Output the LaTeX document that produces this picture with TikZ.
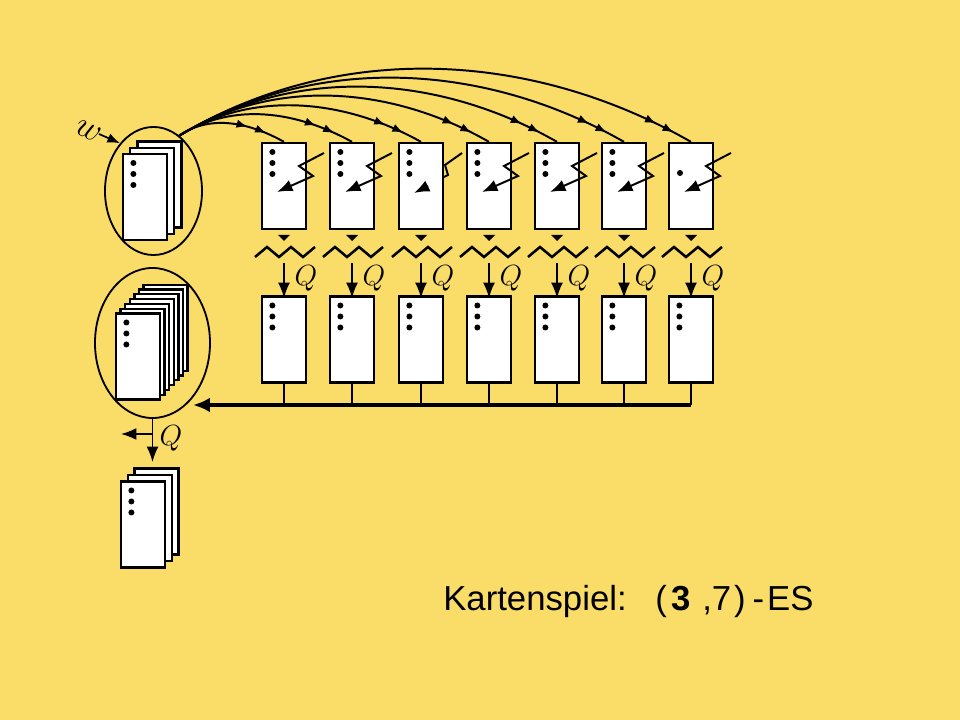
\documentclass[tikz,border=0pt]{standalone}
\usepackage{fontspec}
\newfontfamily\capfont{Liberation Sans}
\usetikzlibrary{arrows.meta,shapes.geometric,decorations.markings}

\begin{document}
\begin{tikzpicture}[x=0.025cm,y=-0.025cm]
\definecolor{slide}{RGB}{250,220,104}
\tikzset{
  card/.style={rectangle,draw=black,fill=white,line width=1.6pt,minimum width=1.1cm,minimum height=2.15cm,inner sep=0pt},
  threedots/.style={card,path picture={
      \fill[black] ([xshift=0.26cm,yshift=-0.225cm]path picture bounding box.north west) circle (0.075cm);
      \fill[black] ([xshift=0.26cm,yshift=-0.5cm]path picture bounding box.north west) circle (0.075cm);
      \fill[black] ([xshift=0.26cm,yshift=-0.775cm]path picture bounding box.north west) circle (0.075cm);}},
  onedot/.style={card,path picture={
      \fill[black] ([xshift=0.275cm,yshift=-0.75cm]path picture bounding box.north west) circle (0.075cm);}},
  deck/.style={ellipse,draw=black,line width=1.3pt,inner sep=0pt},
  deal/.style={line width=1.4pt,postaction={decorate,decoration={markings,
      mark=at position -14pt with {\arrow{Latex[length=8pt,width=6pt]}},
      mark=at position -28pt with {\arrow{Latex[length=8pt,width=6pt]}}}}},
  bolt/.style={line width=1.4pt,-{Latex[length=11pt,width=8.5pt]}},
  zigline/.style={line width=1.8pt},
  drop/.style={line width=1.4pt,-{Latex[length=11pt,width=8.5pt]}},
  wire/.style={line width=1.4pt},
  feed/.style={line width=2.4pt,-{Latex[length=12pt,width=10.5pt]}},
  qlabel/.style={font=\fontsize{20.5}{24}\selectfont,inner sep=0pt},
  caption/.style={font=\capfont\fontsize{24.7}{28}\selectfont,inner sep=0pt}
}
\fill[slide] (0,0) rectangle (960,720);
% the two decks on the left
\node[deck,minimum width=2.425cm,minimum height=3.2cm] (e1) at (153.5,191) {};
\node[card] (a3) at (159.5,184.5) {};
\node[card] (a2) at (152,191) {};
\node[threedots] (a1) at (145,197) {};
\node[deck,minimum width=2.875cm,minimum height=3.75cm] (e2) at (152.5,343) {};
\node[card] (p7) at (165.6,327.7) {};
\node[card] (p6) at (161,332.5) {};
\node[card] (p5) at (156.4,337.3) {};
\node[card] (p4) at (151.8,342.1) {};
\node[card] (p3) at (147.2,346.9) {};
\node[card] (p2) at (142.6,351.7) {};
\node[threedots] (p1) at (138,356.5) {};
\node[card] (o3) at (156.5,511.5) {};
\node[card] (o2) at (150,518) {};
\node[threedots] (o1) at (143,524.5) {};
% top row
\node[threedots] (t1) at (284,186) {};
\node[threedots] (t2) at (352,186) {};
\node[threedots] (t3) at (421,186) {};
\node[threedots] (t4) at (489,186) {};
\node[threedots] (t5) at (557,186) {};
\node[threedots] (t6) at (624,186) {};
\node[onedot] (t7) at (691,186) {};
% bottom row
\node[threedots] (b1) at (284,339.5) {};
\node[threedots] (b2) at (352,339.5) {};
\node[threedots] (b3) at (421,339.5) {};
\node[threedots] (b4) at (489,339.5) {};
\node[threedots] (b5) at (557,339.5) {};
\node[threedots] (b6) at (624,339.5) {};
\node[threedots] (b7) at (691,339.5) {};
% dealing arcs
\draw[deal] (e1.65) .. controls (212,113) and (252,124) .. (t1.north);
\draw[deal] (e1.65) .. controls (234,101) and (298,112) .. (t2.north);
\draw[deal] (e1.65) .. controls (255,89) and (346,100) .. (t3.north);
\draw[deal] (e1.65) .. controls (276,76) and (393,87) .. (t4.north);
\draw[deal] (e1.65) .. controls (298,64) and (440,75) .. (t5.north);
\draw[deal] (e1.65) .. controls (318,52) and (486,63) .. (t6.north);
\draw[deal] (e1.65) .. controls (339,40) and (532,51) .. (t7.north);
% w
\node[qlabel,font=\fontsize{23}{26}\selectfont,rotate=-25] (w) at (88,131) {$w$};
\coordinate (wtail) at (99,134);
\draw[bolt,line width=1.2pt,-{Latex[length=9pt,width=7pt]}] (wtail) -- (e1.125);
% lightning
\draw[bolt] (324,153) -- (299,166) -- (313,176) -- (277,192);
\draw[bolt] (392,153) -- (367,166) -- (381,176) -- (345,192);
\draw[line width=1.4pt] (462,153) -- (445,165) -- (448,175) -- (444,177);
\draw[bolt] (428,186) -- (414,193);
\draw[bolt] (529,153) -- (504,166) -- (518,176) -- (482,192);
\draw[bolt] (597,153) -- (572,166) -- (586,176) -- (550,192);
\draw[bolt] (664,153) -- (639,166) -- (653,176) -- (617,192);
\draw[bolt] (731,153) -- (706,166) -- (720,176) -- (684,192);
% triangles and zigzags
\fill (278,235) -- (290,235) -- (284,241) -- cycle;
\fill (346,235) -- (358,235) -- (352,241) -- cycle;
\fill (415,235) -- (427,235) -- (421,241) -- cycle;
\fill (483,235) -- (495,235) -- (489,241) -- cycle;
\fill (551,235) -- (563,235) -- (557,241) -- cycle;
\fill (618,235) -- (630,235) -- (624,241) -- cycle;
\fill (685,235) -- (697,235) -- (691,241) -- cycle;
\draw[zigline] (255,257) -- ++(12,-10) -- ++(12,10) -- ++(12,-10) -- ++(12,10) -- ++(12,-10);
\draw[zigline] (323,257) -- ++(12,-10) -- ++(12,10) -- ++(12,-10) -- ++(12,10) -- ++(12,-10);
\draw[zigline] (392,257) -- ++(12,-10) -- ++(12,10) -- ++(12,-10) -- ++(12,10) -- ++(12,-10);
\draw[zigline] (460,257) -- ++(12,-10) -- ++(12,10) -- ++(12,-10) -- ++(12,10) -- ++(12,-10);
\draw[zigline] (528,257) -- ++(12,-10) -- ++(12,10) -- ++(12,-10) -- ++(12,10) -- ++(12,-10);
\draw[zigline] (595,257) -- ++(12,-10) -- ++(12,10) -- ++(12,-10) -- ++(12,10) -- ++(12,-10);
\draw[zigline] (662,257) -- ++(12,-10) -- ++(12,10) -- ++(12,-10) -- ++(12,10) -- ++(12,-10);
% Q arrows
\coordinate (z1) at (284,263);
\coordinate (z2) at (352,263);
\coordinate (z3) at (421,263);
\coordinate (z4) at (489,263);
\coordinate (z5) at (557,263);
\coordinate (z6) at (624,263);
\coordinate (z7) at (691,263);
\draw[drop] (z1) -- ([yshift=-2pt]b1.north);
\draw[drop] (z2) -- ([yshift=-2pt]b2.north);
\draw[drop] (z3) -- ([yshift=-2pt]b3.north);
\draw[drop] (z4) -- ([yshift=-2pt]b4.north);
\draw[drop] (z5) -- ([yshift=-2pt]b5.north);
\draw[drop] (z6) -- ([yshift=-2pt]b6.north);
\draw[drop] (z7) -- ([yshift=-2pt]b7.north);
\node[qlabel] (q1) at (306,278) {$Q$};
\node[qlabel] (q2) at (374,278) {$Q$};
\node[qlabel] (q3) at (443,278) {$Q$};
\node[qlabel] (q4) at (511,278) {$Q$};
\node[qlabel] (q5) at (579,278) {$Q$};
\node[qlabel] (q6) at (646,278) {$Q$};
\node[qlabel] (q7) at (713,278) {$Q$};
% collecting bus
\coordinate (busR) at (691,405);
\coordinate (busL) at (193,405);
\draw[wire] (b1.south) -- (b1.south |- busL);
\draw[wire] (b2.south) -- (b2.south |- busL);
\draw[wire] (b3.south) -- (b3.south |- busL);
\draw[wire] (b4.south) -- (b4.south |- busL);
\draw[wire] (b5.south) -- (b5.south |- busL);
\draw[wire] (b6.south) -- (b6.south |- busL);
\draw[wire] (b7.south) -- (busR);
\draw[feed] (busR) -- (busL);
% output
\coordinate (split) at (152.5,434);
\coordinate (aside) at (121,434);
\coordinate (outdeck) at (152.5,462);
\draw[drop,line width=1.1pt] (e2.south) -- (outdeck);
\draw[drop,line width=1.1pt] (split) -- (aside);
\node[qlabel] (q0) at (171,438) {$Q$};
% caption
\node[caption,anchor=base west] (title) at (443,610) {Kartenspiel:};
\node[caption,anchor=base west] (code) at (655,610) {(\hspace{3pt}\textbf{3}\hspace{8.5pt},7\hspace{2pt})\hspace{5pt}-\hspace{2pt}ES};
\end{tikzpicture}
\end{document}
